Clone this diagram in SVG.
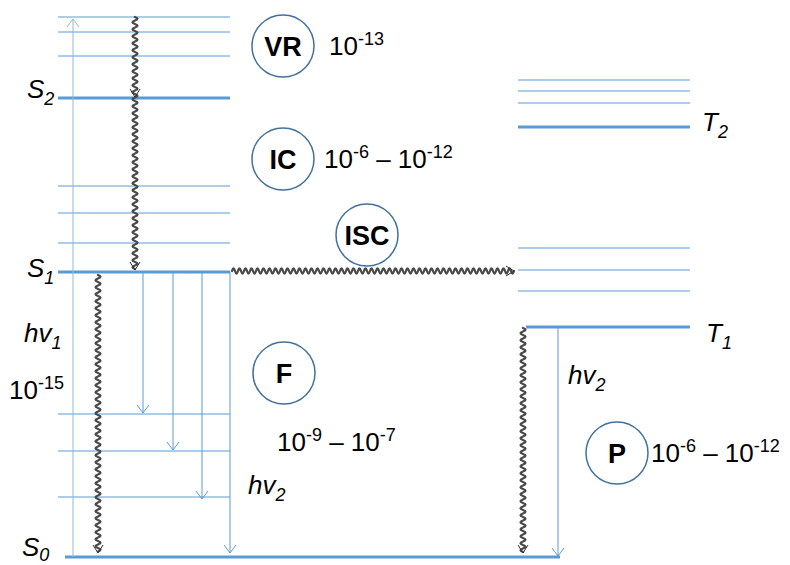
<svg xmlns="http://www.w3.org/2000/svg" width="790" height="565" viewBox="0 0 790 565">
<style>
.thin{stroke:#5B9BD5;stroke-width:1;fill:none}
.thick{stroke:#5B9BD5;stroke-width:3;fill:none}
.arr{stroke:#5B9BD5;stroke-width:1;fill:none}
.up{stroke:#8FB8E0;stroke-width:1;fill:none}
.wave{stroke:#4a4a4a;stroke-width:2.3;fill:none;stroke-linecap:round}
.chev{stroke:#333;stroke-width:1;fill:none}
.circ{stroke:#41719C;stroke-width:1.5;fill:#fff}
.t{font-family:"Liberation Sans",Arial,sans-serif;font-size:26px;fill:#000}
.b{font-family:"Liberation Sans",Arial,sans-serif;font-size:27px;font-weight:bold;fill:#000;text-anchor:middle}
.i{font-family:"Liberation Sans",Arial,sans-serif;font-size:26px;font-style:italic;fill:#000}
.s{font-size:18px}
</style>
<defs>
<marker id="ah" markerUnits="userSpaceOnUse" markerWidth="16" markerHeight="16" refX="0" refY="0" viewBox="-10 -8 12 16" orient="auto">
<path d="M-8,-6 L0,0 L-8,6" fill="none" stroke="#5B9BD5" stroke-width="1"/>
</marker>
<marker id="ahu" markerUnits="userSpaceOnUse" markerWidth="16" markerHeight="16" refX="0" refY="0" viewBox="-10 -8 12 16" orient="auto">
<path d="M-8,-6 L0,0 L-8,6" fill="none" stroke="#8FB8E0" stroke-width="1"/>
</marker>
</defs>

<g id="S2">
<line class="thin" x1="58" y1="17" x2="230" y2="17"/>
<line class="thin" x1="58" y1="32" x2="230" y2="32"/>
<line class="thin" x1="58" y1="56" x2="230" y2="56"/>
<line class="thick" x1="58" y1="98" x2="230" y2="98"/>
<text class="i" x="27" y="98">S<tspan class="s" dy="7">2</tspan></text>
</g>
<g id="S1">
<line class="thin" x1="58" y1="186" x2="230" y2="186"/>
<line class="thin" x1="58" y1="213" x2="230" y2="213"/>
<line class="thin" x1="58" y1="243" x2="230" y2="243"/>
<line class="thick" x1="58" y1="272" x2="230" y2="272"/>
<text class="i" x="27" y="277">S<tspan class="s" dy="7">1</tspan></text>
</g>
<g id="S0">
<line class="thin" x1="58" y1="414" x2="230" y2="414"/>
<line class="thin" x1="58" y1="451" x2="230" y2="451"/>
<line class="thin" x1="58" y1="497" x2="230" y2="497"/>
<line class="thick" x1="65" y1="557" x2="560" y2="557"/>
<text class="i" x="22" y="556">S<tspan class="s" dy="5">0</tspan></text>
</g>
<g id="T2">
<line class="thin" x1="518" y1="80" x2="690" y2="80"/>
<line class="thin" x1="518" y1="91" x2="690" y2="91"/>
<line class="thin" x1="518" y1="103" x2="690" y2="103"/>
<line class="thick" x1="518" y1="127" x2="690" y2="127"/>
<text class="i" x="702" y="131">T<tspan class="s" dy="7">2</tspan></text>
</g>
<g id="T1">
<line class="thin" x1="518" y1="248" x2="690" y2="248"/>
<line class="thin" x1="518" y1="270" x2="690" y2="270"/>
<line class="thin" x1="518" y1="291" x2="690" y2="291"/>
<line class="thick" x1="526" y1="327" x2="690" y2="327"/>
<text class="i" x="706" y="342">T<tspan class="s" dy="7">1</tspan></text>
</g>

<g id="connectors">
<line class="up" x1="73" y1="557" x2="73" y2="19" marker-end="url(#ahu)"/>
<line class="arr" x1="143" y1="272" x2="143" y2="413" marker-end="url(#ah)"/>
<line class="arr" x1="173" y1="272" x2="173" y2="450" marker-end="url(#ah)"/>
<line class="arr" x1="202" y1="272" x2="202" y2="499" marker-end="url(#ah)"/>
<line class="arr" x1="230" y1="272" x2="230" y2="553" marker-end="url(#ah)"/>
<line class="arr" x1="558" y1="327" x2="558" y2="556" marker-end="url(#ah)"/>
<path class="wave" d="M135,17 q5,1.75 0,3.5 t0,3.5t0,3.5t0,3.5t0,3.5t0,3.5t0,3.5t0,3.5t0,3.5t0,3.5t0,3.5 t0,3.5t0,3.5t0,3.5t0,3.5t0,3.5t0,3.5t0,3.5t0,3.5t0,3.5t0,3.5 t0,3.5t0,3.5t0,3.5t0,3.5t0,3.5t0,3.5t0,3.5t0,3.5t0,3.5t0,3.5 t0,3.5t0,3.5t0,3.5t0,3.5t0,3.5t0,3.5t0,3.5t0,3.5t0,3.5t0,3.5 t0,3.5t0,3.5t0,3.5t0,3.5t0,3.5t0,3.5t0,3.5t0,3.5t0,3.5t0,3.5 t0,3.5t0,3.5t0,3.5t0,3.5t0,3.5t0,3.5t0,3.5t0,3.5t0,3.5t0,3.5 t0,3.5t0,3.5t0,3.5t0,3.5t0,3.5t0,3.5t0,3.5t0,3.5t0,3.5t0,3.5 t0,3.5"/>
<polyline class="chev" points="130,89 135,97 140,89"/>
<polyline class="chev" points="130,262 135,270 140,262"/>
<path class="wave" d="M98,275 q5,1.75 0,3.5 t0,3.5t0,3.5t0,3.5t0,3.5t0,3.5t0,3.5t0,3.5t0,3.5t0,3.5t0,3.5 t0,3.5t0,3.5t0,3.5t0,3.5t0,3.5t0,3.5t0,3.5t0,3.5t0,3.5t0,3.5 t0,3.5t0,3.5t0,3.5t0,3.5t0,3.5t0,3.5t0,3.5t0,3.5t0,3.5t0,3.5 t0,3.5t0,3.5t0,3.5t0,3.5t0,3.5t0,3.5t0,3.5t0,3.5t0,3.5t0,3.5 t0,3.5t0,3.5t0,3.5t0,3.5t0,3.5t0,3.5t0,3.5t0,3.5t0,3.5t0,3.5 t0,3.5t0,3.5t0,3.5t0,3.5t0,3.5t0,3.5t0,3.5t0,3.5t0,3.5t0,3.5 t0,3.5t0,3.5t0,3.5t0,3.5t0,3.5t0,3.5t0,3.5t0,3.5t0,3.5t0,3.5 t0,3.5t0,3.5t0,3.5t0,3.5t0,3.5t0,3.5t0,3.5t0,3.5"/>
<polyline class="chev" points="93,545 98,553 103,545"/>
<path class="wave" d="M523,328 q5,1.75 0,3.5 t0,3.5t0,3.5t0,3.5t0,3.5t0,3.5t0,3.5t0,3.5t0,3.5t0,3.5t0,3.5 t0,3.5t0,3.5t0,3.5t0,3.5t0,3.5t0,3.5t0,3.5t0,3.5t0,3.5t0,3.5 t0,3.5t0,3.5t0,3.5t0,3.5t0,3.5t0,3.5t0,3.5t0,3.5t0,3.5t0,3.5 t0,3.5t0,3.5t0,3.5t0,3.5t0,3.5t0,3.5t0,3.5t0,3.5t0,3.5t0,3.5 t0,3.5t0,3.5t0,3.5t0,3.5t0,3.5t0,3.5t0,3.5t0,3.5t0,3.5t0,3.5 t0,3.5t0,3.5t0,3.5t0,3.5t0,3.5t0,3.5t0,3.5t0,3.5t0,3.5t0,3.5 t0,3.5t0,3.5t0,3.5"/>
<polyline class="chev" points="518,545 523,553 528,545"/>
<path class="wave" d="M232,271 q1.5,-5 3,0 t3,0t3,0t3,0t3,0t3,0t3,0t3,0t3,0t3,0t3,0 t3,0t3,0t3,0t3,0t3,0t3,0t3,0t3,0t3,0t3,0 t3,0t3,0t3,0t3,0t3,0t3,0t3,0t3,0t3,0t3,0 t3,0t3,0t3,0t3,0t3,0t3,0t3,0t3,0t3,0t3,0 t3,0t3,0t3,0t3,0t3,0t3,0t3,0t3,0t3,0t3,0 t3,0t3,0t3,0t3,0t3,0t3,0t3,0t3,0t3,0t3,0 t3,0t3,0t3,0t3,0t3,0t3,0t3,0t3,0t3,0t3,0 t3,0t3,0t3,0t3,0t3,0t3,0t3,0t3,0t3,0t3,0 t3,0t3,0t3,0t3,0t3,0t3,0t3,0t3,0t3,0t3,0 t3,0t3,0t3,0"/>
<polyline class="chev" points="506,266 514,271 506,276"/>
</g>

<g id="VR">
<circle class="circ" cx="283" cy="46" r="31"/>
<text class="b" x="283" y="56">VR</text>
<text class="t" x="329" y="55">10<tspan class="s" dy="-10">-13</tspan></text>
</g>
<g id="IC">
<circle class="circ" cx="283" cy="159" r="31"/>
<text class="b" x="283" y="169">IC</text>
<text class="t" x="324" y="168">10<tspan class="s" dy="-10">-6</tspan><tspan dy="10"> – 10</tspan><tspan class="s" dy="-10">-12</tspan></text>
</g>
<g id="ISC">
<circle class="circ" cx="367" cy="235" r="31"/>
<text class="b" x="367" y="245">ISC</text>
</g>
<g id="F">
<circle class="circ" cx="284" cy="373" r="31"/>
<text class="b" x="284" y="383">F</text>
<text class="t" x="277" y="451">10<tspan class="s" dy="-10">-9</tspan><tspan dy="10"> – 10</tspan><tspan class="s" dy="-10">-7</tspan></text>
<text class="i" x="248" y="494">hv<tspan class="s" dy="7">2</tspan></text>
</g>
<g id="P">
<circle class="circ" cx="617" cy="453" r="31"/>
<text class="b" x="617" y="463">P</text>
<text class="t" x="651" y="462">10<tspan class="s" dy="-10">-6</tspan><tspan dy="10"> – 10</tspan><tspan class="s" dy="-10">-12</tspan></text>
<text class="i" x="568" y="384">hv<tspan class="s" dy="7">2</tspan></text>
</g>
<g id="absorption">
<text class="i" x="24" y="342">hv<tspan class="s" dy="7">1</tspan></text>
<text class="t" x="9" y="399">10<tspan class="s" dy="-10">-15</tspan></text>
</g>
</svg>
